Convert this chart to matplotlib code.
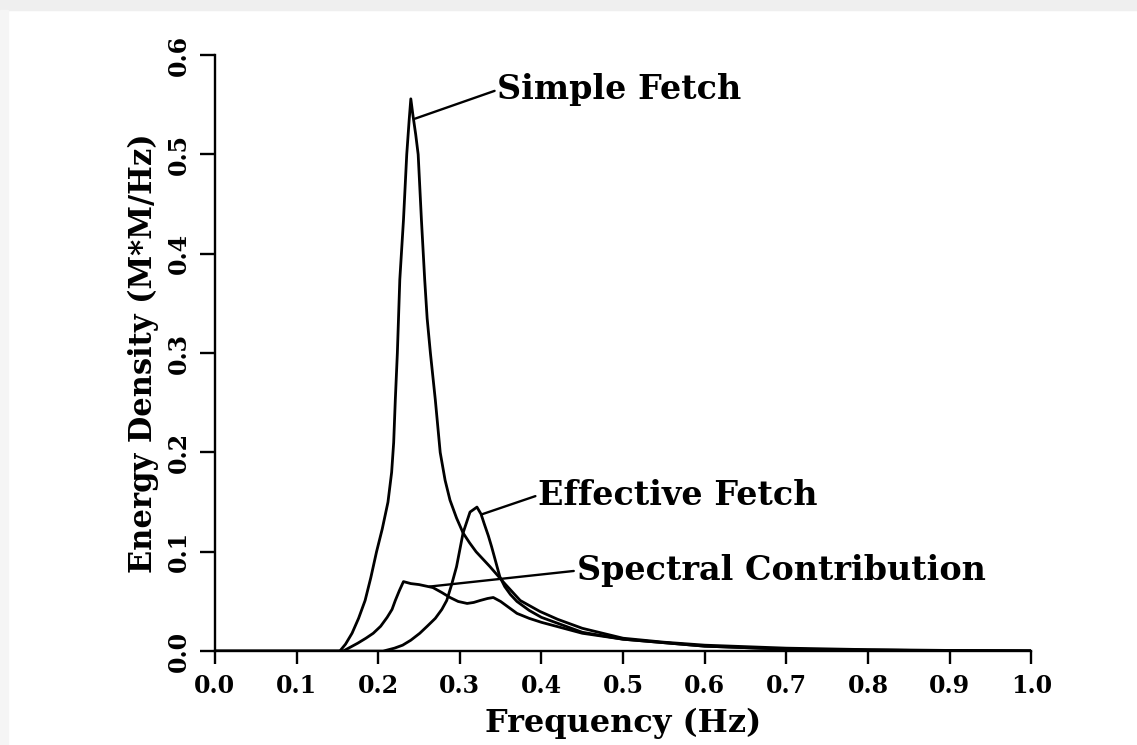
import matplotlib
matplotlib.use("Agg")
import matplotlib.pyplot as plt
from matplotlib.patches import Rectangle

# values (frequency in Hz, energy density in M*M/Hz)
simple_x = [0.0, 0.14, 0.153, 0.160, 0.168, 0.176, 0.184, 0.191, 0.198, 0.205, 0.212,
            0.2165, 0.219, 0.221, 0.2235, 0.2265, 0.231, 0.235, 0.238, 0.240, 0.2425,
            0.246, 0.249, 0.253, 0.257, 0.260, 0.264, 0.270, 0.276, 0.282, 0.288, 0.296,
            0.304, 0.312, 0.320, 0.337, 0.355, 0.374, 0.398, 0.42, 0.45, 0.5, 0.55, 0.6,
            0.65, 0.7, 0.8, 0.9, 1.0]
simple_y = [0.0, 0.0, 0.0, 0.007, 0.018, 0.033, 0.051, 0.074, 0.10, 0.123, 0.15,
            0.18, 0.21, 0.253, 0.30, 0.374, 0.434, 0.50, 0.535, 0.556, 0.54,
            0.52, 0.50, 0.434, 0.374, 0.335, 0.30, 0.253, 0.20, 0.172, 0.152, 0.134,
            0.119, 0.109, 0.100, 0.085, 0.068, 0.051, 0.040, 0.032, 0.023, 0.013, 0.009,
            0.006, 0.0045, 0.003, 0.0015, 0.0007, 0.0003]

effective_x = [0.0, 0.206, 0.22, 0.23, 0.24, 0.251, 0.26, 0.27, 0.278, 0.284, 0.290,
               0.296, 0.304, 0.3125, 0.321, 0.326, 0.330, 0.335, 0.339, 0.344, 0.349,
               0.355, 0.362, 0.37, 0.385, 0.40, 0.45, 0.5, 0.6, 0.7, 0.8, 0.9, 1.0]
effective_y = [0.0, 0.0, 0.003, 0.006, 0.011, 0.018, 0.025, 0.033, 0.042, 0.051, 0.067,
               0.085, 0.119, 0.140, 0.145, 0.138, 0.128, 0.116, 0.105, 0.090, 0.075,
               0.065, 0.057, 0.050, 0.041, 0.034, 0.019, 0.012, 0.005, 0.002, 0.001,
               0.0005, 0.0002]

spectral_x = [0.0, 0.157, 0.166, 0.175, 0.185, 0.194, 0.203, 0.211, 0.217, 0.221, 0.226,
              0.231, 0.24, 0.25, 0.267, 0.278, 0.288, 0.298, 0.309, 0.317, 0.325, 0.334,
              0.341, 0.35, 0.36, 0.37, 0.385, 0.40, 0.45, 0.5, 0.6, 0.7, 0.8, 0.9, 1.0]
spectral_y = [0.0, 0.0, 0.004, 0.008, 0.013, 0.018, 0.025, 0.034, 0.042, 0.051, 0.061,
              0.070, 0.068, 0.067, 0.064, 0.059, 0.054, 0.050, 0.048, 0.049, 0.051, 0.053,
              0.054, 0.050, 0.044, 0.038, 0.033, 0.029, 0.018, 0.012, 0.005, 0.002,
              0.001, 0.0005, 0.0002]

x_ticks = [0.0, 0.1, 0.2, 0.3, 0.4, 0.5, 0.6, 0.7, 0.8, 0.9, 1.0]
y_ticks = [0.0, 0.1, 0.2, 0.3, 0.4, 0.5, 0.6]

# label text, point on the curve, end of the leader line
labels = ["Simple Fetch", "Effective Fetch", "Spectral Contribution"]
label_xy = [(0.245, 0.536), (0.328, 0.138), (0.263, 0.065)]
label_text_xy = [(0.346, 0.565), (0.396, 0.157), (0.443, 0.081)]

font = "DejaVu Serif"

fig = plt.figure(figsize=(11.37, 7.45), dpi=100)
# screenshot frame
fig.add_artist(Rectangle((0, 0.987), 1, 0.013, transform=fig.transFigure,
                         color="#efefef", zorder=0))
fig.add_artist(Rectangle((0, 0), 0.007, 0.987, transform=fig.transFigure,
                         color="#f5f5f5", zorder=0))

ax = fig.add_axes([0.189, 0.126, 0.718, 0.800])

for xs, ys in ((simple_x, simple_y), (effective_x, effective_y), (spectral_x, spectral_y)):
    ax.plot(xs, ys, color="black", lw=2.0, solid_joinstyle="round")

for text, xy, xyt in zip(labels, label_xy, label_text_xy):
    ax.annotate(text, xy=xy, xytext=xyt, ha="left", va="center",
                fontsize=24, family=font, fontweight="bold", color="black",
                arrowprops=dict(arrowstyle="-", color="black", lw=1.7,
                                shrinkA=0, shrinkB=0, relpos=(0, 0.5)))

ax.set_xlim(0, 1.0)
ax.set_ylim(0, 0.6)
ax.set_xticks(x_ticks)
ax.set_yticks(y_ticks)
ax.set_xticklabels(["%.1f" % v for v in x_ticks], family=font, fontsize=17, fontweight="bold")
ax.set_yticklabels(["%.1f" % v for v in y_ticks], family=font, fontsize=17, fontweight="bold",
                   rotation=90, va="center")

for side in ("top", "right"):
    ax.spines[side].set_visible(False)
for side in ("left", "bottom"):
    ax.spines[side].set_linewidth(1.7)
ax.tick_params(axis="x", direction="out", length=9.5, width=1.7, pad=7)
ax.tick_params(axis="y", direction="out", length=11, width=1.7, pad=6)

ax.set_xlabel("Frequency (Hz)", family=font, fontsize=23, fontweight="bold", labelpad=7)
ax.set_ylabel("Energy Density (M*M/Hz)", family=font, fontsize=22, fontweight="bold",
              labelpad=6)

fig.savefig("out.png", dpi=100)
